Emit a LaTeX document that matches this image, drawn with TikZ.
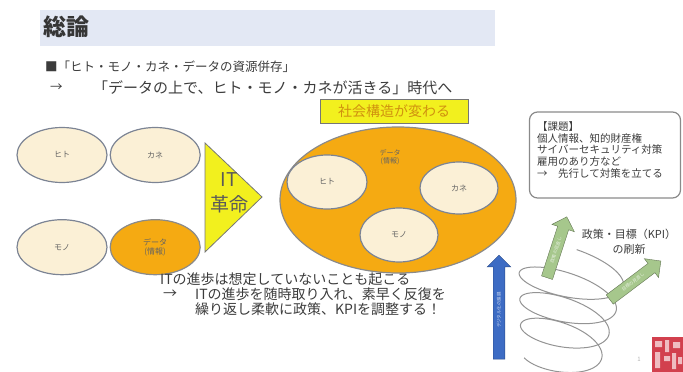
\documentclass[tikz,border=0pt]{standalone}
\usepackage{fontspec}
\setmainfont{Noto Sans CJK JP}
\usetikzlibrary{positioning, shapes.geometric, shapes.arrows}
\definecolor{cream}{HTML}{FBF0D6}
\definecolor{gold}{HTML}{F5AA12}
\definecolor{lemon}{HTML}{F2F01E}
\definecolor{rimgray}{HTML}{7C8494}
\definecolor{ink}{HTML}{3C3C3C}
\definecolor{band}{HTML}{E3E8F4}
\definecolor{leaf}{HTML}{A6C78C}
\definecolor{sky}{HTML}{3D6CC4}
\definecolor{stamp}{HTML}{D2404E}
\tikzset{
x=1pt, y=-1pt, % one unit is one pixel, y runs downwards
res/.style={ellipse, draw=rimgray, line width=1.2pt, fill=cream, inner sep=0pt, minimum width=90pt, minimum height=55pt, font=\fontsize{8}{9}\selectfont, text=ink!80}, % the resource bubbles
datares/.style={res, fill=gold, draw=ink!60}, % data as a resource
line/.style={anchor=west, inner sep=0pt, text=ink}, % one line of text
upward/.style={single arrow, single arrow head extend=6pt, inner ysep=3.5pt, inner xsep=2pt, font=\fontsize{4.5}{5}\selectfont}, % block arrows
}

\begin{document}
\begin{tikzpicture}
    \useasboundingbox (0,0) rectangle (683,372);

    % heading
    \fill[band] (40,10) rectangle (495,46);
    \node[line, font=\fontsize{23}{23}\selectfont\bfseries, text=ink!90!black] (title) at (43,27) {総論};
    \node[line, font=\fontsize{12.5}{13}\selectfont] (claim) at (45,67) {■「ヒト・モノ・カネ・データの資源併存」};
    \node[line, font=\fontsize{12.5}{13}\selectfont] (arrowA) at (50,88) {→};
    \node[line, font=\fontsize{15}{15}\selectfont] (claimB) at (93,88) {「データの上で、ヒト・モノ・カネが活きる」時代へ};

    % resources side by side
    \node[res] (hito) at (62,155) {ヒト};
    \node[res, right=2pt of hito] (kane) {カネ};
    \node[res, below=36pt of hito] (mono) {モノ};
    \node[datares, right=2pt of mono, align=center] (data) {データ\\(情報)};

    % IT revolution
    \draw[draw=ink!70, fill=lemon, line width=0.8pt] (205,143) -- (262,197) -- (205,252) -- cycle;
    \node[font=\fontsize{19}{25}\selectfont, text=ink!85, align=center] (itrev) at (229,193) {IT\\革命};

    % resources on top of data
    \node[ellipse, draw=ink!60, line width=1.2pt, fill=gold, minimum width=236pt, minimum height=146pt] (base) at (398,200) {};
    \node[font=\fontsize{7}{8}\selectfont, text=ink!80, align=center] (baselabel) at (390,157) {データ\\(情報)};
    \node[res, minimum width=80pt, minimum height=54pt] (hito2) at (327,182) {ヒト};
    \node[res, minimum width=78pt, minimum height=52pt] (kane2) at (459,188) {カネ};
    \node[res, minimum width=78pt, minimum height=54pt] (mono2) at (399,235) {モノ};
    \node[draw=ink!70, fill=lemon, line width=0.8pt, minimum width=148pt, minimum height=24pt, inner sep=0pt, font=\fontsize{14}{14}\selectfont, text=gold!85!black] (change) at (394,111) {社会構造が変わる};

    % issues
    \node[draw=ink!60, line width=1.2pt, rounded corners=8pt, minimum width=151pt, minimum height=86pt] (issues) at (605,155) {};
    \node[line, font=\fontsize{10.5}{11.8}\selectfont, align=left] (issuetext) at (537,150) {【課題】\\個人情報、知的財産権\\サイバーセキュリティ対策\\雇用のあり方など\\→　先行して対策を立てる};

    % keep turning
    \draw[ink!55, line width=1pt] plot[domain=270:1590, samples=400, smooth]
        ({572 - 0.00909*(\x-270) + 0.966*(55-0.01136*(\x-270))*cos(\x) - 0.259*18*sin(\x)},
         {267 + 0.069*(\x-270) + 0.259*(55-0.01136*(\x-270))*cos(\x) + 0.966*18*sin(\x)});
    \node[upward, fill=sky, draw=sky!70!black, text=white!75!sky, minimum height=104pt, rotate=90] (time) at (499,310) {デジタル化の進展};
    \node[upward, fill=leaf, draw=leaf!60!black, text=white!70!leaf, minimum height=64pt, rotate=72] (turn1) at (556,250) {政策の見直し};
    \node[upward, fill=leaf, draw=leaf!60!black, text=white!70!leaf, minimum height=64pt, rotate=37] (turn2) at (633,282) {目標の見直し};
    \node[font=\fontsize{11}{15.5}\selectfont, text=ink, align=center] (policy) at (629,242) {政策・目標（KPI）\\の刷新};

    % what to do
    \node[line, font=\fontsize{14}{15}\selectfont] (cap1) at (160,279) {ITの進歩は想定していないことも起こる};
    \node[line, font=\fontsize{14}{15}\selectfont] (cap2) at (163,294) {→};
    \node[line, font=\fontsize{14}{15}\selectfont, align=left] (cap3) at (195,301.5) {ITの進歩を随時取り入れ、素早く反復を\\繰り返し柔軟に政策、KPIを調整する！};

    % page corner
    \node[font=\fontsize{6}{6}\selectfont, text=ink!40] (page) at (639,359) {1};
    \fill[stamp] (652,337) rectangle (683,372);
    \fill[stamp!35] (655,341) rectangle (662,347) (665,340) rectangle (669,352) (655,352) rectangle (660,368) (664,356) rectangle (670,361) (673,342) rectangle (680,348) (672,353) rectangle (676,369) (678,357) rectangle (682,364);
\end{tikzpicture}
\end{document}
